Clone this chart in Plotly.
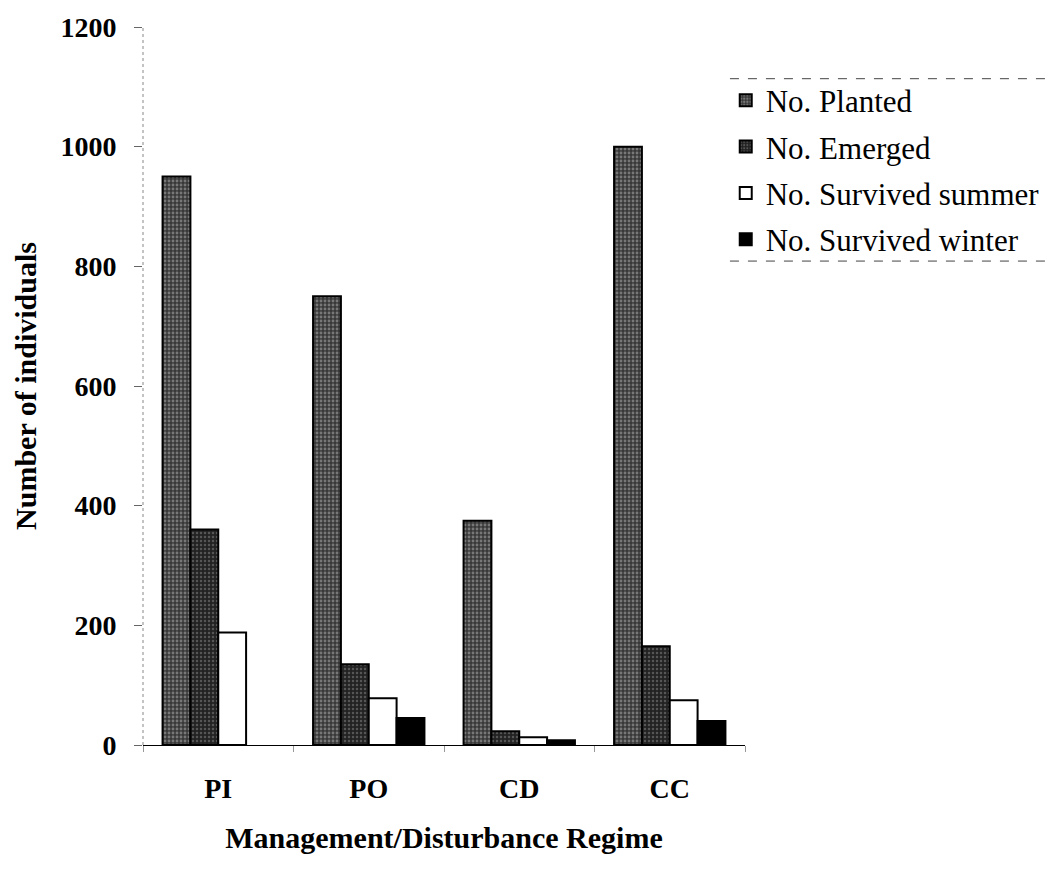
import plotly.graph_objects as go

# Seedling fate by management / disturbance regime
regimes = ["PI", "PO", "CD", "CC"]
planted = [950, 750, 375, 1000]
emerged = [360, 135, 23, 165]
survived_summer = [188, 78, 13, 75]
survived_winter = [None, 45, 8, 40]

series = [
    ("No. Planted", planted,
     dict(color="#444444", pattern=dict(shape=".", fgcolor="#b8b8b8", bgcolor="#383838", size=4, solidity=0.4))),
    ("No. Emerged", emerged,
     dict(color="#2a2a2a", pattern=dict(shape=".", fgcolor="#8a8a8a", bgcolor="#222222", size=4, solidity=0.3))),
    ("No. Survived summer", survived_summer, dict(color="white")),
    ("No. Survived winter", survived_winter, dict(color="black")),
]

serif = "Liberation Serif, Times New Roman, serif"

fig = go.Figure()
for i, (name, vals, style) in enumerate(series):
    fig.add_trace(go.Bar(
        x=regimes, y=vals, name=name, legendgroup=str(i),
        marker=dict(**style, line=dict(color="black", width=2)),
    ))

fig.update_layout(
    width=1058, height=869,
    margin=dict(l=143, r=313, t=24, b=124),
    paper_bgcolor="white", plot_bgcolor="white",
    barmode="group", bargap=0.26, bargroupgap=0,
    font=dict(family=serif, color="black"),
    legend=dict(
        x=0.968, y=0.935, xanchor="left", yanchor="top",
        font=dict(family=serif, size=31, color="black"),
        tracegroupgap=3, itemwidth=30,
        bgcolor="rgba(0,0,0,0)",
    ),
    showlegend=True,
)

fig.update_xaxes(
    showline=True, linecolor="black", linewidth=1,
    ticks="outside", tickson="boundaries", ticklen=6, tickcolor="#999999",
    tickfont=dict(family=serif, size=28, color="black", weight="bold"),
    ticklabelstandoff=18,
    title=dict(text="Management/Disturbance Regime", standoff=24,
               font=dict(family=serif, size=30, color="black", weight="bold")),
    showgrid=False,
)
fig.update_yaxes(
    range=[0, 1200], dtick=200,
    showline=False, ticks="outside", ticklen=8, tickcolor="#666666",
    tickfont=dict(family=serif, size=28, color="black", weight="bold"),
    ticklabelstandoff=12,
    title=dict(text="Number of individuals", standoff=14,
               font=dict(family=serif, size=30, color="black", weight="bold")),
    showgrid=False, zeroline=False,
)

# Dotted vertical axis line and the rules framing the legend
fig.add_shape(type="line", xref="paper", yref="paper", x0=0, x1=0, y0=0, y1=1,
              line=dict(color="#888888", width=1, dash="dot"))
for yy in (0.928, 0.674):
    fig.add_shape(type="line", xref="paper", yref="paper", x0=0.975, x1=1.5,
                  y0=yy, y1=yy, line=dict(color="#444444", width=1, dash="dash"))

fig.write_html("out.html")
